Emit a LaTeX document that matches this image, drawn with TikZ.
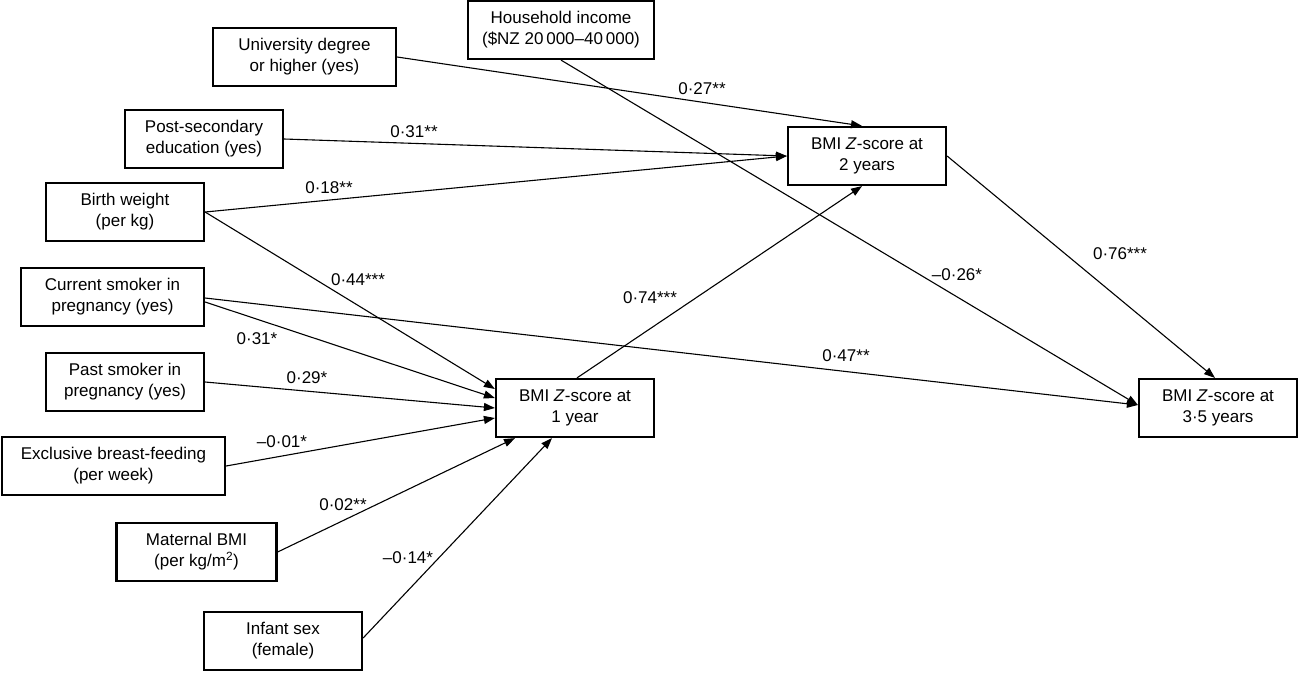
\documentclass[tikz,border=0pt]{standalone}
\usepackage{fontspec}
\setmainfont{Liberation Sans}
\usetikzlibrary{arrows.meta,calc}
\begin{document}
\begin{tikzpicture}[x=1pt,y=-1pt,
  box/.style={draw, line width=2.2pt, minimum height=58pt, inner sep=0pt, align=center,
    font=\fontsize{17}{21}\selectfont},
  lbl/.style={inner sep=0pt, font=\fontsize{17}{21}\selectfont},
  conn/.style={line width=1.1pt, -{Triangle[length=11pt,width=8pt]}}]
\useasboundingbox (0,0) rectangle (1300,673);
% predictors
\node[box, minimum width=183pt] (uni)  at (304.5,57) {University degree\\or higher (yes)};
\node[box, minimum width=186pt] (hh)   at (561,30)   {Household income\\(\$NZ 20\,000–40\,000)};
\node[box, minimum width=158pt] (post) at (204,139)  {Post-secondary\\education (yes)};
\node[box, minimum width=158pt] (bw)   at (125,212)  {Birth weight\\(per kg)};
\node[box, minimum width=183pt] (cur)  at (112.5,297){Current smoker in\\pregnancy (yes)};
\node[box, minimum width=158pt] (past) at (125,382)  {Past smoker in\\pregnancy (yes)};
\node[box, minimum width=223pt] (excl) at (113.5,466){Exclusive breast-feeding\\(per week)};
\node[box, minimum width=160pt] (mat)  at (196.5,552){Maternal BMI\\(per kg/m\textsuperscript{2})};
\node[box, minimum width=158pt] (inf)  at (283,641)  {Infant sex\\(female)};
% outcomes
\node[box, minimum width=158pt] (bmi1)  at (575,408)  {BMI \textit{Z}-score at\\1 year};
\node[box, minimum width=158pt] (bmi2)  at (867,156)  {BMI \textit{Z}-score at\\2 years};
\node[box, minimum width=158pt] (bmi35) at (1218,408) {BMI \textit{Z}-score at\\3·5 years};
% connectors
\draw[conn] (uni.east) -- ([xshift=-5pt]bmi2.north);
\draw[conn] (hh.south) -- ([yshift=3pt]bmi35.west);
\draw[conn] (post.east) -- (bmi2.west);
\draw[conn] (bw.east) -- (bmi2.west);
\draw[conn] (bw.east) -- ([yshift=19pt]bmi1.west);
\draw[conn] ([yshift=-1pt]cur.east) -- ([yshift=3pt]bmi35.west);
\draw[conn] ([yshift=-5pt]cur.east) -- ([yshift=10pt]bmi1.west);
\draw[conn] (past.east) -- (bmi1.west);
\draw[conn] (excl.east) -- ([yshift=-10pt]bmi1.west);
\draw[conn] (mat.east) -- ([xshift=-60pt]bmi1.south);
\draw[conn] ([yshift=3pt]inf.east) -- ([xshift=-23pt]bmi1.south);
\draw[conn] ([xshift=2pt]bmi1.north) -- ([xshift=-5pt]bmi2.south);
\draw[conn] (bmi2.east) -- ([xshift=-3pt]bmi35.north);
% labels
\node[lbl] (l1)  at (702,89)  {0·27**};
\node[lbl] (l2)  at (414,132) {0·31**};
\node[lbl] (l3)  at (329,188) {0·18**};
\node[lbl] (l4)  at (358,280) {0·44***};
\node[lbl] (l5)  at (257,339) {0·31*};
\node[lbl] (l6)  at (307,378) {0·29*};
\node[lbl] (l7)  at (282,442) {–0·01*};
\node[lbl] (l8)  at (343,505) {0·02**};
\node[lbl] (l9)  at (408,558) {–0·14*};
\node[lbl] (l10) at (650,298) {0·74***};
\node[lbl] (l11) at (957,275) {–0·26*};
\node[lbl] (l12) at (1120,254){0·76***};
\node[lbl] (l13) at (846,356) {0·47**};
\end{tikzpicture}
\end{document}
